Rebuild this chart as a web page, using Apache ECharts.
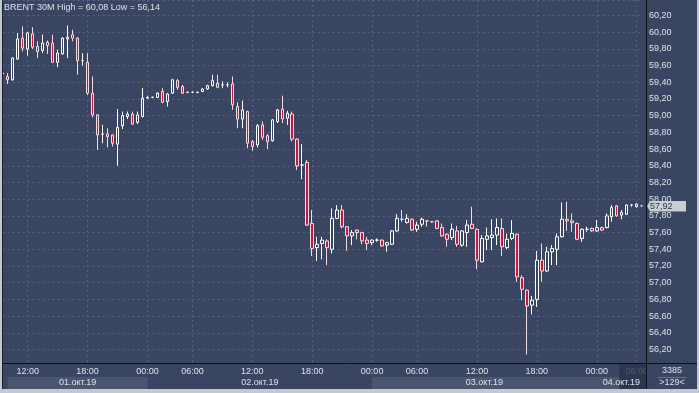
<!DOCTYPE html>
<html><head><meta charset="utf-8">
<script src="https://cdn.jsdelivr.net/npm/echarts@6/dist/echarts.min.js"></script>
<style>html,body{margin:0;padding:0;background:#3a4562;overflow:hidden}#c{width:699px;height:393px}</style>
</head><body><div id="c"></div>
<script>
// ---- data ----
const symbolName = 'BRENT 30M';
const categories = [
'01 09:30','01 10:00','01 10:30','01 11:00','01 11:30','01 12:00','01 12:30','01 13:00','01 13:30','01 14:00',
'01 14:30','01 15:00','01 15:30','01 16:00','01 16:30','01 17:00','01 17:30','01 18:00','01 18:30','01 19:00',
'01 19:30','01 20:00','01 20:30','01 21:00','01 21:30','01 22:00','01 22:30','01 23:00','01 23:30',
'02 00:00','02 00:30','02 02:30','02 03:00','02 03:30','02 04:00','02 04:30','02 05:00','02 05:30','02 06:00',
'02 06:30','02 07:00','02 07:30','02 08:00','02 08:30','02 09:00','02 09:30','02 10:00','02 10:30','02 11:00',
'02 11:30','02 12:00','02 12:30','02 13:00','02 13:30','02 14:00','02 14:30','02 15:00','02 15:30','02 16:00',
'02 16:30','02 17:00','02 17:30','02 18:00','02 18:30','02 19:00','02 19:30','02 20:00','02 20:30','02 21:00',
'02 21:30','02 22:00','02 22:30','02 23:00','02 23:30',
'03 00:00','03 00:30','03 02:30','03 03:00','03 03:30','03 04:00','03 04:30','03 05:00','03 05:30','03 06:00',
'03 06:30','03 07:00','03 07:30','03 08:00','03 08:30','03 09:00','03 09:30','03 10:00','03 10:30','03 11:00',
'03 11:30','03 12:00','03 12:30','03 13:00','03 13:30','03 14:00','03 14:30','03 15:00','03 15:30','03 16:00',
'03 16:30','03 17:00','03 17:30','03 18:00','03 18:30','03 19:00','03 19:30','03 20:00','03 20:30','03 21:00',
'03 21:30','03 22:00','03 22:30','03 23:00','03 23:30',
'04 00:00','04 00:30','04 03:00','04 03:30','04 04:00','04 04:30','04 05:00','04 05:30','04 06:00','04 06:30'
];
const opens = [
59.50,59.47,59.43,59.68,59.93,59.80,59.98,59.83,59.78,59.88,59.87,59.64,59.74,59.92,59.97,59.93,59.66,59.64,59.27,59.01,
58.78,58.78,58.77,58.66,58.88,58.99,59.02,58.92,58.99,59.21,59.22,59.22,59.29,59.17,59.27,59.42,59.35,59.28,59.28,59.28,
59.29,59.32,59.36,59.39,59.37,59.37,59.38,59.11,58.96,59.05,58.69,58.65,58.89,58.76,58.70,58.93,59.08,58.97,59.02,58.72,
58.41,58.44,57.71,57.42,57.47,57.50,57.40,57.77,57.87,57.67,57.56,57.63,57.60,57.51,57.48,57.51,57.51,57.45,57.46,57.62,
57.76,57.72,57.76,57.64,57.70,57.74,57.73,57.74,57.66,57.58,57.54,57.62,57.45,57.60,57.70,57.64,57.25,57.52,57.54,57.57,
57.65,57.42,57.53,57.58,57.06,56.91,56.73,56.80,57.27,57.14,57.37,57.40,57.55,57.76,57.74,57.71,57.53,57.64,57.65,57.62,
57.66,57.66,57.79,57.92,57.81,57.82,57.93,57.91,57.92
];
const closes = [
59.51,59.43,59.69,59.92,59.81,59.99,59.82,59.77,59.87,59.84,59.64,59.75,59.93,59.94,59.93,59.66,59.66,59.27,59.01,58.77,
58.78,58.75,58.67,58.86,59.00,59.02,58.90,59.01,59.21,59.22,59.22,59.27,59.16,59.26,59.43,59.34,59.27,59.28,59.28,59.28,
59.32,59.36,59.42,59.34,59.37,59.37,59.13,58.96,59.07,58.67,58.63,58.88,58.74,58.69,58.95,59.07,58.96,59.03,58.72,58.40,
58.41,57.69,57.41,57.46,57.51,57.42,57.77,57.87,57.67,57.56,57.60,57.60,57.50,57.47,57.51,57.51,57.44,57.48,57.62,57.77,
57.76,57.77,57.63,57.69,57.76,57.74,57.73,57.65,57.56,57.52,57.64,57.46,57.62,57.69,57.65,57.27,57.53,57.56,57.57,57.66,
57.43,57.52,57.59,57.07,56.92,56.72,56.79,57.27,57.14,57.37,57.41,57.55,57.76,57.74,57.72,57.52,57.64,57.64,57.62,57.66,
57.63,57.80,57.90,57.80,57.84,57.93,57.93,57.94,57.92
];
const lows = [
59.48,59.38,59.42,59.67,59.77,59.72,59.80,59.69,59.75,59.74,59.63,59.58,59.73,59.69,59.89,59.49,59.60,59.25,58.98,58.59,
58.67,58.62,58.63,58.40,58.84,58.96,58.89,58.90,58.98,59.20,59.21,59.21,59.15,59.11,59.26,59.31,59.26,59.27,59.27,59.27,
59.29,59.31,59.35,59.33,59.33,59.34,59.07,58.85,58.85,58.61,58.58,58.62,58.71,58.60,58.69,58.91,58.91,58.89,58.69,58.35,
58.24,57.68,57.32,57.26,57.28,57.21,57.35,57.76,57.65,57.38,57.45,57.52,57.46,57.39,57.45,57.49,57.43,57.37,57.45,57.61,
57.73,57.71,57.62,57.61,57.67,57.67,57.72,57.64,57.55,57.43,57.51,57.43,57.43,57.43,57.64,57.16,57.24,57.39,57.39,57.45,
57.32,57.40,57.51,57.01,56.79,56.14,56.62,56.71,57.01,57.13,57.21,57.21,57.54,57.62,57.61,57.51,57.49,57.61,57.61,57.61,
57.62,57.65,57.73,57.79,57.76,57.81,57.91,57.90,57.92
];
const highs = [
59.52,59.51,59.70,59.99,60.07,60.00,60.06,59.89,59.97,59.90,59.97,59.79,59.94,60.08,60.03,59.94,59.75,59.75,59.47,59.02,
58.89,58.85,58.78,59.08,59.05,59.05,59.05,59.05,59.33,59.24,59.23,59.28,59.33,59.27,59.44,59.44,59.37,59.29,59.29,59.29,
59.33,59.37,59.49,59.49,59.41,59.40,59.47,59.16,59.18,59.06,58.71,58.90,58.93,58.78,58.96,59.08,59.24,59.06,59.05,58.73,
58.66,58.47,57.87,57.55,57.55,57.52,57.89,57.93,57.93,57.68,57.63,57.64,57.61,57.55,57.52,57.53,57.52,57.49,57.63,57.82,
57.87,57.82,57.77,57.73,57.78,57.75,57.74,57.75,57.71,57.59,57.71,57.68,57.63,57.75,57.91,57.65,57.57,57.66,57.76,57.77,
57.77,57.59,57.75,57.59,57.09,56.92,56.84,57.38,57.47,57.43,57.45,57.59,57.96,57.97,57.83,57.72,57.65,57.67,57.66,57.75,
57.67,57.83,57.93,57.93,57.87,57.94,57.94,57.95,57.93
];
const timeTickLabels = ['00:00','06:00','12:00','18:00'];
const dayLabels = ['01.окт.19','02.окт.19','03.окт.19','04.окт.19'];
const totalBarsText = '3385';
const visibleBarsText = '>129<';
// ---- layout ----
const BG = '#3a4562';
const TXT = '#dde1e9';
const FONT = 'Liberation Sans';
const fmt = v => v.toFixed(2).replace('.', ',');
const hi = Math.max(...highs), lo = Math.min(...lows);
const lastClose = closes[closes.length - 1];
const candleData = opens.map((o, i) => [o, closes[i], lows[i], highs[i]]);

const chart = echarts.init(document.getElementById('c'), null, {renderer: 'canvas'});
chart.setOption({
  backgroundColor: BG,
  animation: false,
  grid: {left: 2.7, top: 0, width: 639, height: 363, containLabel: false},
  xAxis: {
    type: 'category', data: categories, boundaryGap: false,
    axisLine: {show: false}, axisTick: {show: false},
    axisLabel: {
      interval: (i, v) => timeTickLabels.includes(v.slice(3)),
      formatter: (v, i) => i === categories.length - 2 ? '{d|' + v.slice(3) + '}' : v.slice(3),
      color: TXT, fontSize: 9, fontFamily: FONT, margin: 4,
      rich: {d: {color: '#7c869c', fontSize: 9, fontFamily: FONT}}
    },
    splitLine: {show: true, interval: (i, v) => timeTickLabels.includes(v.slice(3)),
      lineStyle: {color: '#56627e', type: [2, 3], width: 1}}
  },
  yAxis: {
    type: 'value', position: 'right', offset: 4.3, scale: true,
    min: 56.038, max: 60.386, splitNumber: 20, minInterval: 0.2, maxInterval: 0.2,
    axisLine: {show: false}, axisTick: {show: false},
    axisLabel: {formatter: fmt, color: TXT, fontSize: 9, fontFamily: FONT, margin: 3,
      showMinLabel: false, showMaxLabel: false},
    splitLine: {show: true, lineStyle: {color: '#56627e', type: [2, 3], width: 1}}
  },
  series: [{
    type: 'candlestick', data: candleData, barWidth: 3, clip: false,
    itemStyle: {color: BG, color0: '#c8163e', borderColor: '#ffffff', borderColor0: '#f4dbe1', borderWidth: 1}
  }]
});

// decorations computed from axes
const px = i => chart.convertToPixel({xAxisIndex: 0}, i);
const py = v => chart.convertToPixel({yAxisIndex: 0}, v);
const axisX = 646, axisY = 363, bottomY = 389;
const dayStart = [];
categories.forEach((c, i) => { const d = c.slice(0, 2); if (!dayStart.length || categories[dayStart[dayStart.length - 1]].slice(0, 2) !== d) dayStart.push(i); });
const markerFrom = px(124) - 2.5;
const els = [];
dayStart.forEach((s, di) => {
  const x0 = di === 0 ? px(1) : px(s);
  const x1 = di < dayStart.length - 1 ? px(dayStart[di + 1]) : axisX;
  if (di % 2 === 0) {
    const xe = (di === 2) ? markerFrom : x1;
    els.push({type: 'rect', shape: {x: x0, y: 377, width: xe - x0, height: 12}, style: {fill: '#4a566f'}, z: 1});
  }
  els.push({type: 'text', x: (x0 + x1) / 2, y: 382.5, z: 5,
    style: {text: dayLabels[di], fill: TXT, font: '9px "' + FONT + '"', align: 'center', verticalAlign: 'middle'}});
});
els.push({type: 'rect', shape: {x: markerFrom, y: axisY, width: axisX - markerFrom, height: bottomY - axisY}, style: {fill: 'rgba(28,35,55,0.45)'}, z: 3});
// right panel cover
els.push({type: 'rect', shape: {x: axisX, y: axisY, width: 699 - axisX, height: bottomY - axisY}, style: {fill: BG}, z: 4});
// axis lines
els.push({type: 'line', shape: {x1: 0, y1: axisY + 0.5, x2: 699, y2: axisY + 0.5}, style: {stroke: '#0d1018', lineWidth: 1}, z: 6});
els.push({type: 'line', shape: {x1: axisX + 0.5, y1: 0, x2: axisX + 0.5, y2: bottomY}, style: {stroke: '#0d1018', lineWidth: 1}, z: 6});
// bar counters
els.push({type: 'text', x: 672, y: 371, z: 7, style: {text: totalBarsText, fill: TXT, font: '9px "' + FONT + '"', align: 'center', verticalAlign: 'middle'}});
els.push({type: 'line', shape: {x1: 658, y1: 377.5, x2: 686, y2: 377.5}, style: {stroke: '#6b7590', lineWidth: 1}, z: 7});
els.push({type: 'text', x: 672, y: 383, z: 7, style: {text: visibleBarsText, fill: TXT, font: '9px "' + FONT + '"', align: 'center', verticalAlign: 'middle'}});
// last price tag
const ly = py(lastClose);
els.push({type: 'polygon', shape: {points: [[axisX + 1, ly], [axisX + 4, ly - 5], [686, ly - 5], [686, ly + 5.5], [axisX + 4, ly + 5.5]]}, style: {fill: '#c9cdd5'}, z: 8});
els.push({type: 'text', x: 650, y: ly + 0.5, z: 9, style: {text: fmt(lastClose), fill: '#333a4a', font: '9px "' + FONT + '"', align: 'left', verticalAlign: 'middle'}});
// title
els.push({type: 'text', x: 4, y: 8, z: 9, style: {text: symbolName + ' High = ' + fmt(hi) + ' Low = ' + fmt(lo), fill: TXT, font: '9px "' + FONT + '"', align: 'left', verticalAlign: 'middle'}});
// frame
els.push({type: 'rect', shape: {x: 0, y: 0, width: 2, height: 393}, style: {fill: '#c4c8d0'}, z: 10});
els.push({type: 'line', shape: {x1: 2.5, y1: 0, x2: 2.5, y2: bottomY}, style: {stroke: '#1a2030', lineWidth: 1}, z: 10});
els.push({type: 'rect', shape: {x: 697, y: 0, width: 2, height: 393}, style: {fill: '#c4c8d0'}, z: 10});
els.push({type: 'rect', shape: {x: 0, y: bottomY, width: 699, height: 4}, style: {fill: '#c4c8d0'}, z: 10});
chart.setOption({graphic: {elements: els}});
</script></body></html>
